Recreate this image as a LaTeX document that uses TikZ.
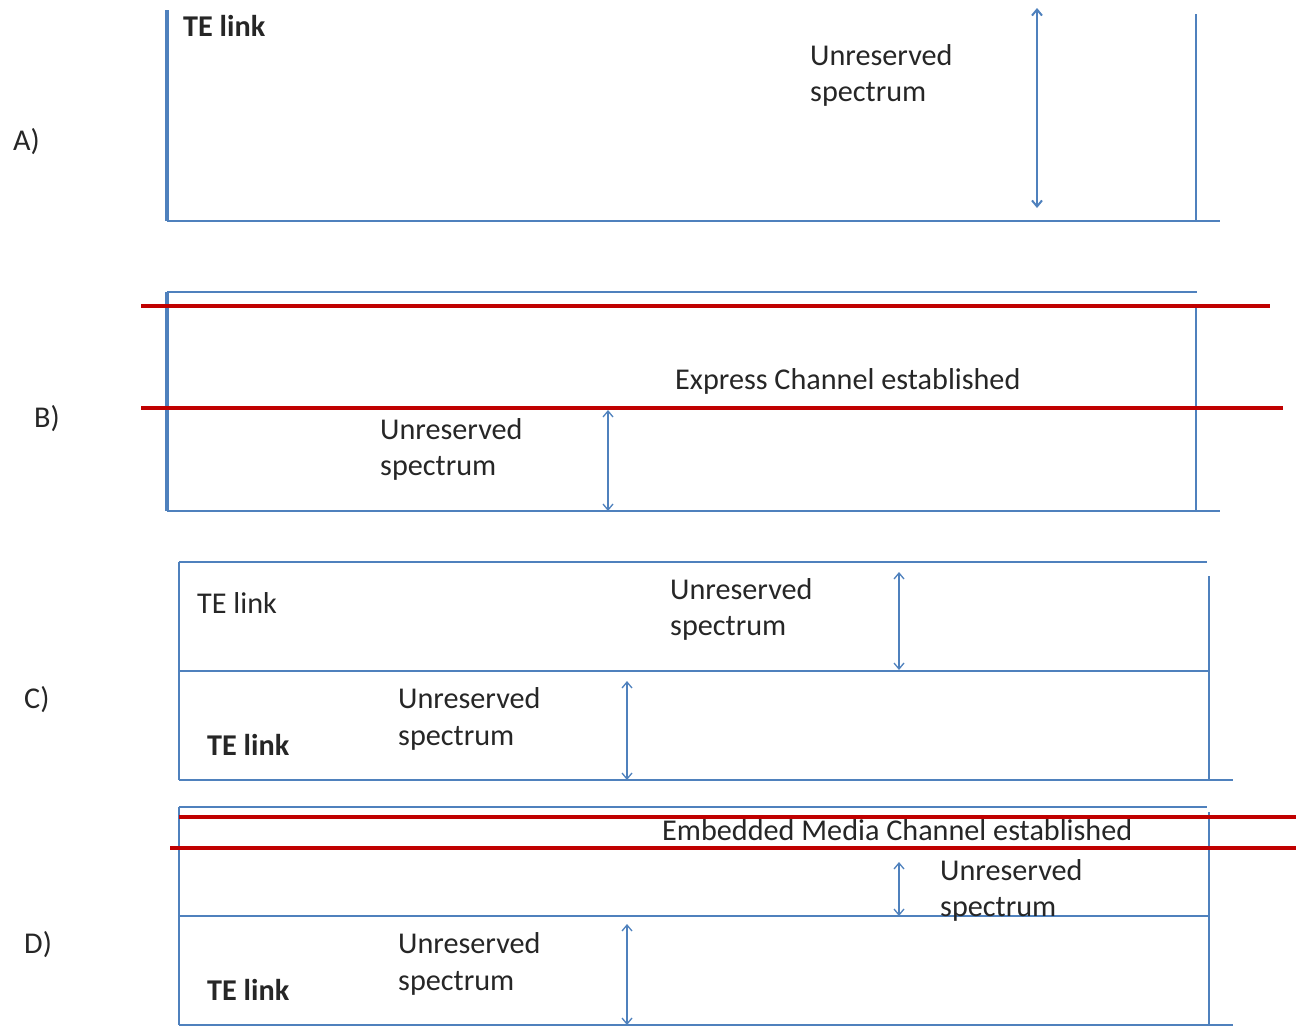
\documentclass[tikz,border=0pt]{standalone}
\usepackage{fontspec}
\setmainfont{Carlito}
\usetikzlibrary{arrows.meta}
\definecolor{linkblue}{HTML}{4F81BD}
\definecolor{chanred}{HTML}{C00000}
\begin{document}
\begin{tikzpicture}[x=1pt,y=-1pt,
  edge/.style={draw=linkblue,line width=2.2pt},
  thickedge/.style={draw=linkblue,line width=3.2pt},
  channel/.style={draw=chanred,line width=4pt},
  span/.style={draw=linkblue,line width=1.3pt,{Straight Barb[length=6pt,width=10pt]}-{Straight Barb[length=6pt,width=10pt]}},
  lbl/.style={anchor=base west,inner sep=0pt,font=\fontsize{30.2}{36}\selectfont,text=black!85},
  boldlbl/.style={lbl,font=\fontsize{30.2}{36}\selectfont\bfseries}]
\useasboundingbox (0,0) rectangle (1296,1026);

% ---------- A) ----------
\node[lbl] (la) at (13,150) {A)};
\draw[thickedge] (167,10) -- (167,221);
\draw[edge] (167,221) -- (1220,221);
\draw[edge] (1196,14) -- (1196,221);
\coordinate (a1) at (1037,8);
\coordinate (a2) at (1037,208);
\draw[span,line width=2pt] (a1) -- (a2);
\node[boldlbl] (ate) at (183,36) {TE link};
\node[lbl] (au1) at (810,65) {Unreserved};
\node[lbl] (au2) at (810,101) {spectrum};

% ---------- B) ----------
\node[lbl] (lb) at (34,427) {B)};
\draw[edge] (167,292) -- (1197,292);
\draw[thickedge] (167,292) -- (167,511);
\draw[edge] (167,511) -- (1220,511);
\draw[edge] (1196,306) -- (1196,511);
\draw[channel] (141,306) -- (1270,306);
\draw[channel] (141,408) -- (1283,408);
\node[lbl] (bex) at (675,389) {Express Channel established};
\coordinate (b1) at (608,410);
\coordinate (b2) at (608,511);
\draw[span] (b1) -- (b2);
\node[lbl] (bu1) at (380,439) {Unreserved};
\node[lbl] (bu2) at (380,475) {spectrum};

% ---------- C) ----------
\node[lbl] (lc) at (24,708) {C)};
\draw[edge] (179,562) -- (1207,562);
\draw[edge] (179,562) -- (179,780);
\draw[edge] (179,671) -- (1209,671);
\draw[edge] (179,780) -- (1233,780);
\draw[edge] (1209,576) -- (1209,780);
\coordinate (c1) at (899,572);
\coordinate (c2) at (899,670);
\draw[span] (c1) -- (c2);
\node[lbl] (cte1) at (197,613) {TE link};
\node[lbl] (cu1) at (670,599) {Unreserved};
\node[lbl] (cu2) at (670,635) {spectrum};
\coordinate (c3) at (627,681);
\coordinate (c4) at (627,780);
\draw[span] (c3) -- (c4);
\node[boldlbl] (cte2) at (207,755) {TE link};
\node[lbl] (cu3) at (398,708) {Unreserved};
\node[lbl] (cu4) at (398,745) {spectrum};

% ---------- D) ----------
\node[lbl] (ld) at (24,953) {D)};
\draw[edge] (179,807) -- (1207,807);
\draw[edge] (179,807) -- (179,1025);
\draw[edge] (179,916) -- (1209,916);
\draw[edge] (179,1025) -- (1233,1025);
\draw[edge] (1209,812) -- (1209,1025);
\draw[channel] (179,817) -- (1296,817);
\draw[channel] (170,848) -- (1296,848);
\node[lbl] (dem) at (662,840) {Embedded Media Channel established};
\coordinate (d1) at (899,862);
\coordinate (d2) at (899,916);
\draw[span] (d1) -- (d2);
\node[lbl] (du1) at (940,880) {Unreserved};
\node[lbl] (du2) at (940,916) {spectrum};
\coordinate (d3) at (627,924);
\coordinate (d4) at (627,1025);
\draw[span] (d3) -- (d4);
\node[boldlbl] (dte) at (207,1000) {TE link};
\node[lbl] (du3) at (398,953) {Unreserved};
\node[lbl] (du4) at (398,990) {spectrum};
\end{tikzpicture}
\end{document}
